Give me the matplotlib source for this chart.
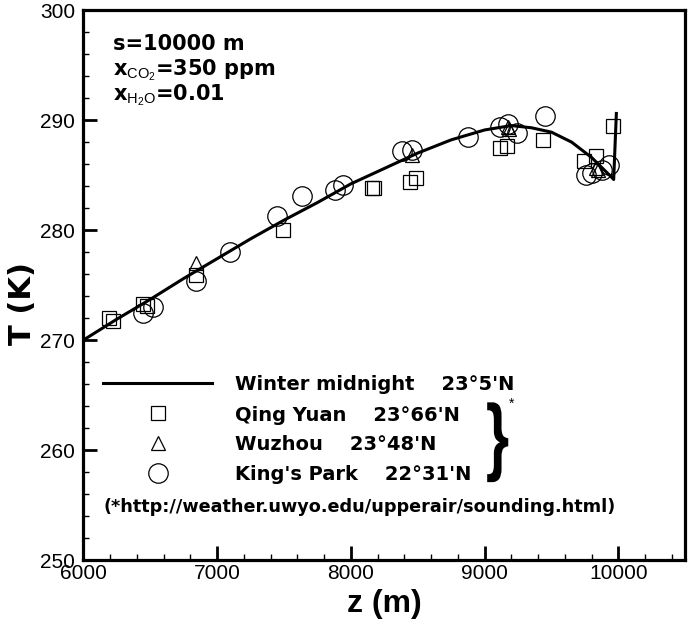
import numpy as np
import matplotlib.pyplot as plt
from matplotlib.ticker import MultipleLocator
from matplotlib.textpath import TextPath
from matplotlib.patches import PathPatch
from matplotlib.font_manager import FontProperties
from matplotlib.transforms import Affine2D

plt.rcParams['font.family'] = ['Liberation Sans', 'DejaVu Sans']
plt.rcParams['mathtext.fontset'] = 'custom'
plt.rcParams['mathtext.rm'] = 'Liberation Sans'
plt.rcParams['mathtext.it'] = 'Liberation Sans:italic'
plt.rcParams['mathtext.bf'] = 'Liberation Sans:bold'

# Model profile (winter midnight)
curve_z = [6000, 6250, 6500, 6750, 7000, 7250, 7500, 7750, 8000, 8250, 8500,
           8750, 9000, 9200, 9350, 9500, 9650, 9800, 9900, 9950, 9965, 9985]
curve_T = [270.0, 271.9, 273.7, 275.6, 277.4, 279.2, 280.9, 282.5, 284.2, 285.6, 287.0,
           288.2, 289.1, 289.5, 289.3, 288.9, 288.0, 286.6, 285.4, 284.8, 284.6, 290.6]

# Sounding data
qy_z = [6190, 6225, 6450, 6475, 6840, 7495, 8155, 8170, 8440, 8485, 9112, 9165,
        9435, 9740, 9830, 9963]
qy_T = [272.0, 271.7, 273.3, 273.1, 275.9, 280.0, 283.8, 283.8, 284.4, 284.7, 287.5, 287.6,
        288.2, 286.3, 286.7, 289.5]

wz_z = [6843, 8455, 9172, 9180, 9836, 9850]
wz_T = [277.0, 286.8, 289.4, 289.2, 285.6, 285.5]

kp_z = [6448, 6522, 6840, 7097, 7445, 7634, 7881, 7940, 8381, 8455, 8873, 9112,
        9172, 9239, 9455, 9761, 9806, 9881, 9933]
kp_T = [272.5, 273.0, 275.4, 278.0, 281.3, 283.1, 283.6, 284.1, 287.2, 287.3, 288.5, 289.4,
        289.6, 288.8, 290.4, 285.0, 285.2, 285.5, 285.9]

legend_labels = ["Winter midnight    23\u00b05'N", "Qing Yuan    23\u00b066'N",
                 "Wuzhou    23\u00b048'N", "King's Park    22\u00b031'N"]

fig = plt.figure(figsize=(6.88, 6.26), dpi=100)
ax = fig.add_axes([0.121, 0.105, 0.875, 0.879])

ax.plot(curve_z, curve_T, color='black', lw=2.2)
mk = dict(ls='none', color='black', mfc='none', mew=0.9)
ax.plot(qy_z, qy_T, marker='s', ms=10, **mk)
ax.plot(wz_z, wz_T, marker='^', ms=10, **mk)
ax.plot(kp_z, kp_T, marker='o', ms=14, **mk)

ax.set_xlim(6000, 10500)
ax.set_ylim(250, 300)
ax.xaxis.set_major_locator(MultipleLocator(1000))
ax.xaxis.set_minor_locator(MultipleLocator(200))
ax.yaxis.set_major_locator(MultipleLocator(10))
ax.yaxis.set_minor_locator(MultipleLocator(2))
ax.tick_params(which='both', direction='in', labelsize=15)
ax.tick_params(which='major', length=10, width=2)
ax.tick_params(which='minor', length=4.5, width=1)
ax.tick_params(axis='x', pad=3)
ax.tick_params(axis='y', pad=6)
for s in ax.spines.values():
    s.set_linewidth(2.3)

ax.set_xlabel('z (m)', fontsize=23, fontweight='bold', labelpad=4)
ax.set_ylabel('T (K)', fontsize=22, fontweight='bold', family='DejaVu Sans')
ax.yaxis.set_label_coords(-0.077, 0.467)

# Parameter block
tb = dict(transform=ax.transAxes, fontsize=15, fontweight='bold', va='baseline',
          ha='left', family=['DejaVu Sans'])
ax.text(0.050, 0.927, 's=10000 m', **tb)
ax.text(0.050, 0.882, r'x$_{\mathrm{CO_2}}$=350 ppm', **tb)
ax.text(0.050, 0.836, r'x$_{\mathrm{H_2O}}$=0.01', **tb)

# Legend drawn by hand
row_mid = [0.322, 0.267, 0.213, 0.158]
row_base = [0.309, 0.254, 0.200, 0.145]
ax.plot([0.033, 0.214], [row_mid[0]] * 2, color='black', lw=2.2, transform=ax.transAxes)
ax.plot([0.125], [row_mid[1]], marker='s', ms=10, transform=ax.transAxes, **mk)
ax.plot([0.125], [row_mid[2]], marker='^', ms=10, transform=ax.transAxes, **mk)
ax.plot([0.125], [row_mid[3]], marker='o', ms=14, transform=ax.transAxes, **mk)
for y, lab in zip(row_base, legend_labels):
    ax.text(0.2525, y, lab, **dict(tb, fontsize=14))

# curly brace scaled to span the three station rows
tp = TextPath((0, 0), '}', size=1, prop=FontProperties(family='Liberation Sans', weight='bold'))
ext = tp.get_extents()
bx, by, bw, bh = 0.671, 0.142, 0.035, 0.145
brace_tr = (Affine2D().translate(-ext.x0, -ext.y0)
            .scale(bw / ext.width, bh / ext.height).translate(bx, by) + ax.transAxes)
ax.add_patch(PathPatch(tp, transform=brace_tr, fc='black', ec='none'))
ax.text(0.711, 0.285, '*', transform=ax.transAxes, fontsize=10, va='center', ha='center')

ax.text(0.033, 0.087, '(*http://weather.uwyo.edu/upperair/sounding.html)', **dict(tb, fontsize=12.7))

fig.savefig('out.png', dpi=100)
